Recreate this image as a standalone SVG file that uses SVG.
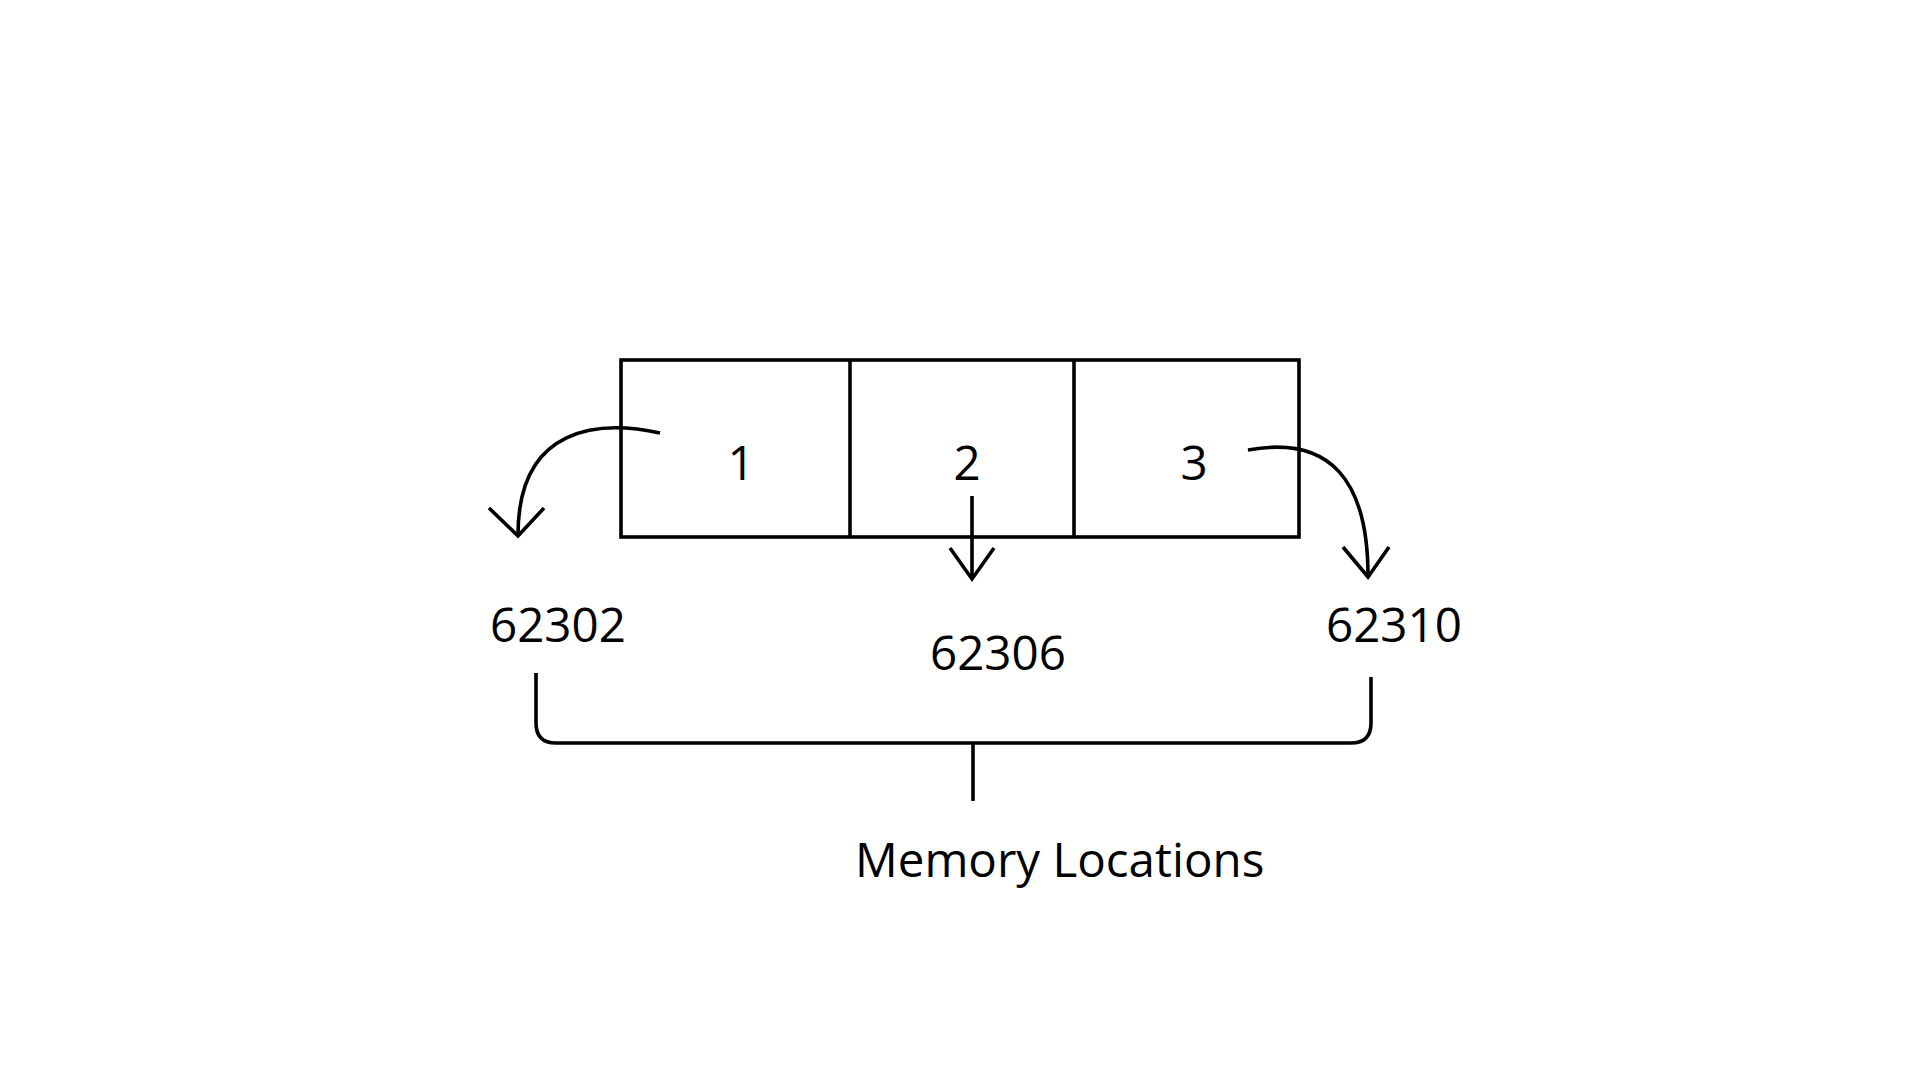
<svg xmlns="http://www.w3.org/2000/svg" width="1920" height="1080" viewBox="0 0 1920 1080">
<style>
.ln{fill:none;stroke:#000;stroke-width:3.6;stroke-linecap:butt;stroke-linejoin:miter}
.t{font-family:"Open Sans","Noto Sans","Liberation Sans",sans-serif;font-size:47.5px;fill:#000}
</style>
<rect width="1920" height="1080" fill="#fff"/>
<g id="array">
<rect class="ln" x="621" y="360" width="678" height="177"/>
<line class="ln" x1="850" y1="360" x2="850" y2="537"/>
<line class="ln" x1="1074" y1="360" x2="1074" y2="537"/>
<text class="t" x="741" y="480" text-anchor="middle">1</text>
<text class="t" x="967" y="480" text-anchor="middle">2</text>
<text class="t" x="1194" y="480" text-anchor="middle">3</text>
</g>
<g id="addr1"><text class="t" x="490" y="642">62302</text></g>
<g id="addr2"><text class="t" x="930" y="670">62306</text></g>
<g id="addr3"><text class="t" x="1326" y="642">62310</text></g>
<g id="label"><text class="t" x="855" y="877">Memory Locations</text></g>
<g id="connectors">
<path class="ln" d="M660,433 C600,420 518,425 518,535"/>
<path class="ln" d="M489,508 L518,536 L544,508"/>
<line class="ln" x1="972" y1="496" x2="972" y2="578"/>
<path class="ln" d="M950,548 L972,579 L994,548"/>
<path class="ln" d="M1248,450 C1330,435 1368,480 1368,576"/>
<path class="ln" d="M1343,547 L1368,577 L1389,547"/>
<path class="ln" d="M536,673 L536,723 Q536,743 556,743 L1351,743 Q1371,743 1371,723 L1371,677"/>
<line class="ln" x1="973" y1="743" x2="973" y2="801"/>
</g>
</svg>
